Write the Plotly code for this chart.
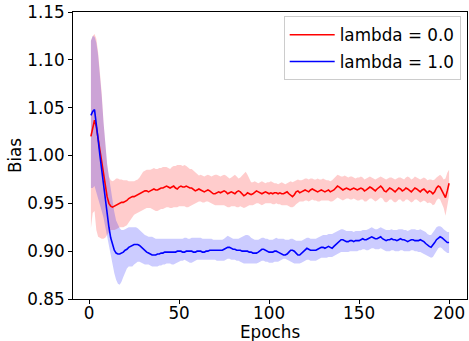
import plotly.graph_objects as go

epochs = list(range(1, 201))

red_mean = [
    1.020, 1.030, 1.037, 1.030, 1.018, 1.005, 0.990, 0.978, 0.967, 0.957,
    0.950, 0.947, 0.946, 0.947, 0.948, 0.949, 0.950, 0.951, 0.951, 0.952,
    0.953, 0.955, 0.956, 0.957, 0.957, 0.958, 0.959, 0.960, 0.961, 0.962,
    0.963, 0.963, 0.962, 0.963, 0.964, 0.965, 0.964, 0.964, 0.965, 0.966,
    0.966, 0.967, 0.968, 0.967, 0.966, 0.967, 0.968, 0.966, 0.965, 0.967,
    0.968, 0.967, 0.967, 0.968, 0.967, 0.966, 0.966, 0.964, 0.963, 0.964,
    0.965, 0.964, 0.963, 0.962, 0.963, 0.964, 0.963, 0.961, 0.960, 0.960,
    0.961, 0.962, 0.961, 0.962, 0.963, 0.962, 0.960, 0.961, 0.962, 0.961,
    0.960, 0.962, 0.963, 0.962, 0.960, 0.958, 0.959, 0.961, 0.960, 0.959,
    0.960, 0.962, 0.963, 0.962, 0.961, 0.960, 0.961, 0.962, 0.961, 0.960,
    0.961, 0.960, 0.961, 0.961, 0.960, 0.961, 0.960, 0.960, 0.961, 0.962,
    0.960, 0.958, 0.957, 0.959, 0.962, 0.963, 0.961, 0.962, 0.963, 0.964,
    0.963, 0.962, 0.964, 0.965, 0.964, 0.963, 0.962, 0.963, 0.964, 0.963,
    0.962, 0.963, 0.964, 0.962, 0.963, 0.964, 0.966, 0.968, 0.967, 0.965,
    0.964, 0.965, 0.966, 0.965, 0.964, 0.965, 0.966, 0.965, 0.964, 0.965,
    0.966, 0.965, 0.963, 0.964, 0.966, 0.967, 0.966, 0.964, 0.963, 0.965,
    0.967, 0.968, 0.966, 0.963, 0.962, 0.964, 0.966, 0.965, 0.963, 0.962,
    0.964, 0.966, 0.965, 0.963, 0.964, 0.966, 0.965, 0.963, 0.962, 0.964,
    0.966, 0.965, 0.963, 0.962, 0.964, 0.965, 0.963, 0.961, 0.963, 0.962,
    0.960, 0.962, 0.966, 0.968, 0.967, 0.963, 0.959, 0.956, 0.963, 0.971,
]

red_hi = [
    1.120, 1.125, 1.127, 1.122, 1.108, 1.090, 1.065, 1.035, 1.010, 0.990,
    0.978, 0.974, 0.973, 0.974, 0.976, 0.976, 0.975, 0.975, 0.974, 0.974,
    0.974, 0.973, 0.973, 0.973, 0.973, 0.974, 0.975, 0.977, 0.980, 0.983,
    0.984, 0.985, 0.985, 0.985, 0.986, 0.987, 0.986, 0.986, 0.987, 0.987,
    0.988, 0.988, 0.988, 0.987, 0.986, 0.988, 0.989, 0.989, 0.990, 0.990,
    0.990, 0.989, 0.990, 0.989, 0.987, 0.986, 0.986, 0.984, 0.982, 0.980,
    0.979, 0.980, 0.979, 0.978, 0.979, 0.980, 0.979, 0.978, 0.979, 0.980,
    0.980, 0.979, 0.978, 0.979, 0.980, 0.979, 0.977, 0.976, 0.977, 0.979,
    0.980, 0.978, 0.976, 0.977, 0.979, 0.982, 0.983, 0.980, 0.975, 0.972,
    0.972, 0.973, 0.972, 0.971, 0.972, 0.973, 0.972, 0.971, 0.972, 0.972,
    0.973, 0.972, 0.971, 0.971, 0.970, 0.971, 0.972, 0.971, 0.970, 0.971,
    0.972, 0.973, 0.972, 0.973, 0.974, 0.975, 0.974, 0.974, 0.975, 0.976,
    0.976, 0.975, 0.976, 0.976, 0.975, 0.975, 0.976, 0.975, 0.975, 0.976,
    0.975, 0.974, 0.974, 0.973, 0.974, 0.976, 0.978, 0.980, 0.979, 0.978,
    0.978, 0.979, 0.978, 0.977, 0.978, 0.978, 0.977, 0.976, 0.977, 0.977,
    0.978, 0.977, 0.975, 0.976, 0.977, 0.978, 0.977, 0.976, 0.975, 0.976,
    0.977, 0.978, 0.977, 0.976, 0.975, 0.976, 0.977, 0.977, 0.976, 0.975,
    0.976, 0.977, 0.977, 0.976, 0.975, 0.977, 0.978, 0.977, 0.975, 0.976,
    0.978, 0.977, 0.976, 0.975, 0.976, 0.977, 0.976, 0.974, 0.975, 0.975,
    0.974, 0.975, 0.977, 0.979, 0.980, 0.978, 0.975, 0.976, 0.982, 0.985,
]

red_lo = [
    0.924, 0.940, 0.942, 0.922, 0.915, 0.914, 0.913, 0.913, 0.914, 0.917,
    0.920, 0.922, 0.922, 0.922, 0.923, 0.924, 0.925, 0.925, 0.925, 0.926,
    0.927, 0.930, 0.933, 0.936, 0.938, 0.939, 0.940, 0.941, 0.942, 0.943,
    0.944, 0.945, 0.945, 0.945, 0.944, 0.943, 0.942, 0.942, 0.943, 0.944,
    0.944, 0.945, 0.946, 0.946, 0.945, 0.945, 0.946, 0.946, 0.946, 0.947,
    0.947, 0.947, 0.947, 0.946, 0.946, 0.947, 0.948, 0.949, 0.950, 0.951,
    0.952, 0.952, 0.951, 0.951, 0.952, 0.952, 0.951, 0.950, 0.949, 0.948,
    0.948, 0.948, 0.948, 0.948, 0.948, 0.947, 0.946, 0.946, 0.947, 0.947,
    0.947, 0.946, 0.946, 0.947, 0.946, 0.945, 0.946, 0.947, 0.948, 0.948,
    0.948, 0.949, 0.950, 0.950, 0.949, 0.948, 0.949, 0.950, 0.950, 0.950,
    0.950, 0.949, 0.949, 0.950, 0.949, 0.949, 0.948, 0.948, 0.948, 0.948,
    0.947, 0.946, 0.946, 0.947, 0.949, 0.951, 0.952, 0.952, 0.952, 0.953,
    0.953, 0.952, 0.953, 0.954, 0.953, 0.953, 0.952, 0.952, 0.953, 0.953,
    0.953, 0.953, 0.953, 0.952, 0.952, 0.953, 0.955, 0.956, 0.955, 0.954,
    0.953, 0.954, 0.955, 0.955, 0.954, 0.954, 0.955, 0.954, 0.953, 0.953,
    0.954, 0.954, 0.952, 0.952, 0.954, 0.955, 0.955, 0.953, 0.952, 0.953,
    0.955, 0.956, 0.955, 0.952, 0.951, 0.952, 0.954, 0.954, 0.952, 0.951,
    0.952, 0.954, 0.954, 0.952, 0.952, 0.954, 0.954, 0.952, 0.951, 0.952,
    0.954, 0.954, 0.952, 0.951, 0.952, 0.953, 0.952, 0.950, 0.951, 0.950,
    0.948, 0.949, 0.953, 0.955, 0.954, 0.950, 0.945, 0.937, 0.947, 0.958,
]

blue_mean = [
    1.042, 1.046, 1.048, 1.035, 1.017, 1.000, 0.984, 0.968, 0.953, 0.938,
    0.925, 0.914, 0.906, 0.901, 0.898, 0.897, 0.897, 0.898, 0.899, 0.901,
    0.902, 0.904, 0.905, 0.906, 0.907, 0.907, 0.907, 0.906, 0.904, 0.902,
    0.900, 0.899, 0.898, 0.897, 0.896, 0.896, 0.896, 0.897, 0.897, 0.898,
    0.898, 0.899, 0.899, 0.899, 0.899, 0.899, 0.899, 0.899, 0.900, 0.900,
    0.900, 0.899, 0.899, 0.900, 0.900, 0.900, 0.900, 0.899, 0.899, 0.900,
    0.900, 0.900, 0.899, 0.899, 0.900, 0.900, 0.901, 0.901, 0.901, 0.901,
    0.901, 0.901, 0.901, 0.901, 0.902, 0.903, 0.904, 0.904, 0.903, 0.902,
    0.902, 0.901, 0.901, 0.901, 0.900, 0.900, 0.900, 0.900, 0.899, 0.899,
    0.898, 0.898, 0.898, 0.899, 0.901, 0.902, 0.902, 0.901, 0.900, 0.899,
    0.899, 0.899, 0.900, 0.900, 0.899, 0.898, 0.897, 0.896, 0.896, 0.897,
    0.899, 0.901, 0.901, 0.900, 0.898, 0.896, 0.896, 0.898, 0.900, 0.902,
    0.903, 0.902, 0.901, 0.901, 0.901, 0.901, 0.902, 0.903, 0.904, 0.904,
    0.903, 0.904, 0.905, 0.904, 0.903, 0.905, 0.907, 0.909, 0.911, 0.912,
    0.912, 0.911, 0.910, 0.910, 0.911, 0.911, 0.910, 0.911, 0.911, 0.911,
    0.912, 0.913, 0.912, 0.912, 0.913, 0.914, 0.915, 0.914, 0.913, 0.913,
    0.914, 0.915, 0.913, 0.912, 0.911, 0.912, 0.912, 0.913, 0.912, 0.912,
    0.911, 0.912, 0.913, 0.912, 0.912, 0.911, 0.910, 0.911, 0.912, 0.912,
    0.911, 0.911, 0.911, 0.912, 0.911, 0.910, 0.908, 0.906, 0.905, 0.904,
    0.906, 0.909, 0.912, 0.914, 0.915, 0.914, 0.912, 0.910, 0.909, 0.909,
]

blue_hi = [
    1.120, 1.125, 1.124, 1.118, 1.105, 1.085, 1.062, 1.035, 1.010, 0.992,
    0.978, 0.964, 0.952, 0.941, 0.932, 0.927, 0.924, 0.922, 0.922, 0.923,
    0.924, 0.925, 0.925, 0.925, 0.925, 0.925, 0.924, 0.922, 0.920, 0.918,
    0.917, 0.916, 0.915, 0.915, 0.915, 0.914, 0.913, 0.913, 0.913, 0.913,
    0.913, 0.913, 0.913, 0.913, 0.913, 0.913, 0.913, 0.913, 0.913, 0.913,
    0.913, 0.913, 0.914, 0.914, 0.913, 0.913, 0.914, 0.914, 0.914, 0.914,
    0.914, 0.914, 0.913, 0.913, 0.913, 0.913, 0.913, 0.913, 0.912, 0.912,
    0.912, 0.912, 0.912, 0.912, 0.913, 0.915, 0.916, 0.915, 0.914, 0.913,
    0.913, 0.913, 0.913, 0.914, 0.915, 0.916, 0.917, 0.917, 0.916, 0.914,
    0.913, 0.912, 0.912, 0.912, 0.913, 0.914, 0.914, 0.913, 0.913, 0.912,
    0.912, 0.912, 0.913, 0.914, 0.913, 0.913, 0.913, 0.913, 0.912, 0.912,
    0.912, 0.913, 0.913, 0.912, 0.911, 0.911, 0.911, 0.911, 0.912, 0.913,
    0.914, 0.914, 0.913, 0.913, 0.913, 0.913, 0.914, 0.915, 0.916, 0.917,
    0.917, 0.917, 0.918, 0.918, 0.918, 0.919, 0.920, 0.921, 0.922, 0.923,
    0.923, 0.922, 0.921, 0.921, 0.921, 0.921, 0.920, 0.921, 0.921, 0.921,
    0.921, 0.922, 0.922, 0.922, 0.923, 0.924, 0.925, 0.924, 0.923, 0.923,
    0.924, 0.925, 0.924, 0.923, 0.922, 0.922, 0.922, 0.923, 0.922, 0.922,
    0.922, 0.923, 0.923, 0.923, 0.922, 0.922, 0.921, 0.922, 0.923, 0.923,
    0.923, 0.922, 0.922, 0.923, 0.922, 0.921, 0.920, 0.918, 0.917, 0.917,
    0.919, 0.922, 0.925, 0.926, 0.926, 0.925, 0.923, 0.921, 0.920, 0.920,
]

blue_lo = [
    0.966, 0.966, 0.968, 0.962, 0.955, 0.948, 0.942, 0.935, 0.925, 0.915,
    0.905, 0.893, 0.884, 0.877, 0.870, 0.866, 0.865, 0.868, 0.873, 0.878,
    0.882, 0.884, 0.884, 0.884, 0.886, 0.888, 0.889, 0.889, 0.888, 0.887,
    0.886, 0.886, 0.886, 0.885, 0.884, 0.884, 0.884, 0.884, 0.885, 0.885,
    0.886, 0.886, 0.887, 0.887, 0.887, 0.886, 0.886, 0.887, 0.888, 0.889,
    0.890, 0.890, 0.891, 0.890, 0.889, 0.888, 0.888, 0.889, 0.890, 0.891,
    0.891, 0.891, 0.891, 0.891, 0.891, 0.891, 0.891, 0.891, 0.891, 0.891,
    0.890, 0.890, 0.890, 0.890, 0.890, 0.891, 0.892, 0.892, 0.891, 0.891,
    0.891, 0.890, 0.890, 0.889, 0.888, 0.887, 0.887, 0.887, 0.887, 0.887,
    0.887, 0.887, 0.887, 0.888, 0.889, 0.890, 0.890, 0.889, 0.889, 0.888,
    0.888, 0.888, 0.889, 0.889, 0.889, 0.890, 0.891, 0.892, 0.892, 0.891,
    0.890, 0.889, 0.888, 0.887, 0.887, 0.887, 0.887, 0.888, 0.889, 0.890,
    0.891, 0.891, 0.890, 0.890, 0.890, 0.890, 0.891, 0.892, 0.893, 0.893,
    0.893, 0.893, 0.894, 0.894, 0.894, 0.895, 0.896, 0.897, 0.898, 0.899,
    0.899, 0.899, 0.899, 0.899, 0.900, 0.900, 0.900, 0.900, 0.900, 0.901,
    0.901, 0.902, 0.902, 0.901, 0.901, 0.902, 0.903, 0.903, 0.902, 0.902,
    0.902, 0.903, 0.902, 0.901, 0.900, 0.900, 0.900, 0.901, 0.901, 0.900,
    0.900, 0.900, 0.901, 0.901, 0.900, 0.900, 0.900, 0.900, 0.901, 0.901,
    0.900, 0.900, 0.899, 0.899, 0.898, 0.897, 0.896, 0.895, 0.894, 0.893,
    0.894, 0.897, 0.900, 0.903, 0.904, 0.903, 0.901, 0.899, 0.898, 0.898,
]

x_ticks = [0, 50, 100, 150, 200]
y_ticks = [0.85, 0.90, 0.95, 1.00, 1.05, 1.10, 1.15]
y_tick_labels = ["0.85", "0.90", "0.95", "1.00", "1.05", "1.10", "1.15"]
x_label = "Epochs"
y_label = "Bias"

series = [
    ("lambda = 0.0", red_mean, red_lo, red_hi, "#ff0000", "rgba(255,0,0,0.2)"),
    ("lambda = 1.0", blue_mean, blue_lo, blue_hi, "#0000ff", "rgba(0,0,255,0.2)"),
]

FONT = "DejaVu Sans"
FS = 16.8
fig = go.Figure()

for name, mean, lo, hi, col, fill in series:
    fig.add_trace(go.Scatter(x=epochs, y=hi, mode="lines", line=dict(width=0, color=fill),
                             showlegend=False, hoverinfo="skip"))
    fig.add_trace(go.Scatter(x=epochs, y=lo, mode="lines", line=dict(width=0, color=fill),
                             fill="tonexty", fillcolor=fill, showlegend=False, hoverinfo="skip"))

for i, (name, mean, lo, hi, col, fill) in enumerate(series):
    fig.add_trace(go.Scatter(x=epochs, y=mean, mode="lines", name=name, legendgroup=f"g{i}",
                             line=dict(color=col, width=1.6)))

fig.update_layout(
    width=469, height=341,
    margin=dict(l=73, r=2, t=12, b=42),
    paper_bgcolor="white", plot_bgcolor="white",
    font=dict(family=FONT, size=FS, color="black"),
    showlegend=True,
    legend=dict(x=0.984, y=0.985, xanchor="right", yanchor="top",
                traceorder="grouped", tracegroupgap=2,
                bgcolor="rgba(255,255,255,0.8)", bordercolor="#cccccc", borderwidth=1,
                font=dict(family=FONT, size=FS, color="black"),
                itemwidth=45),
    annotations=[dict(text=x_label, xref="paper", yref="paper", x=0.5, y=-0.115,
                      xanchor="center", yanchor="middle", showarrow=False,
                      font=dict(family=FONT, size=FS, color="black"))],
)
fig.update_xaxes(
    range=[-8.95, 209.95], tickvals=x_ticks, ticktext=[str(v) for v in x_ticks],
    showgrid=False, zeroline=False, showline=True, linecolor="black", linewidth=1,
    mirror=True, ticks="outside", ticklen=4, tickwidth=1, tickcolor="black",
    automargin=False, ticklabelstandoff=-5,
)
fig.update_yaxes(
    range=[0.85, 1.15], tickvals=y_ticks, ticktext=y_tick_labels,
    showgrid=False, zeroline=False, showline=True, linecolor="black", linewidth=1,
    mirror=True, ticks="outside", ticklen=4, tickwidth=1, tickcolor="black",
    automargin=False,
    title=dict(text=y_label, font=dict(family=FONT, size=FS), standoff=1),
)

# remove the page's default 8px body margin so the figure fills the window exactly
fig.write_html("out.html", config={"displayModeBar": False},
               post_script="document.body.style.margin='0px';")
